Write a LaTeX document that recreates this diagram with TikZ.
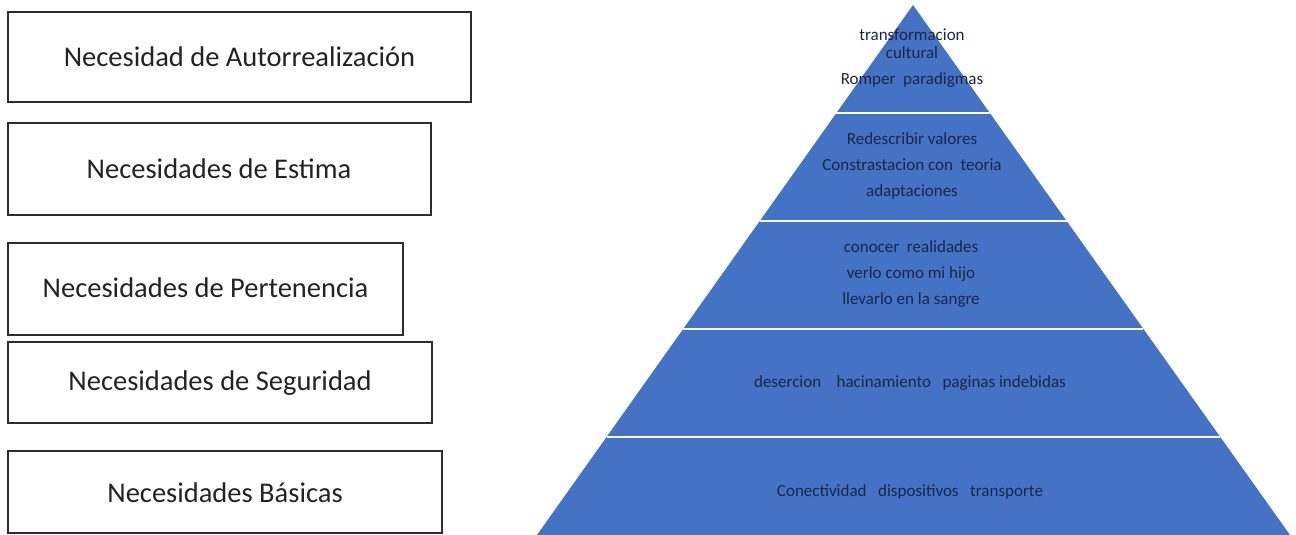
\documentclass[tikz,border=0pt]{standalone}
\usepackage{fontspec}
\setmainfont{Carlito}
\usetikzlibrary{calc}
\definecolor{pyrblue}{HTML}{4472C4}
\definecolor{pyrtext}{RGB}{28,38,68}
\definecolor{boxline}{RGB}{45,45,45}
\definecolor{boxtext}{RGB}{35,35,35}
\tikzset{
  needbox/.style={draw=boxline, line width=2pt, fill=white},
  needlabel/.style={text=boxtext, font=\fontsize{28.5}{34}\selectfont, inner sep=0pt},
  tierlabel/.style={text=pyrtext, font=\fontsize{17}{26}\selectfont, align=center, inner sep=0pt},
  separator/.style={draw=white, line width=2.5pt}
}
\begin{document}
\begin{tikzpicture}[x=1pt,y=-1pt]
\useasboundingbox (0,0) rectangle (1296,535);
% left boxes
\draw[needbox] (8,12) rectangle (471,102);
\node[needlabel] (b1) at (239.5,57) {Necesidad de Autorrealización};
\draw[needbox] (8,123) rectangle (431,215);
\node[needlabel] (b2) at (219,169) {Necesidades de Estima};
\draw[needbox] (8,243) rectangle (403,335);
\node[needlabel] (b3) at (205.5,288) {Necesidades de Pertenencia};
\draw[needbox] (8,342) rectangle (432,423);
\node[needlabel] (b4) at (220,383) {Necesidades de Seguridad};
\draw[needbox] (8,451) rectangle (442,533);
\node[needlabel] (b5) at (225,493) {Necesidades Básicas};
% pyramid
\coordinate (apex) at (913,5);
\coordinate (bl) at (537,535);
\coordinate (br) at (1290,535);
\fill[pyrblue] (apex) -- (bl) -- (br) -- cycle;
\foreach \t in {0.2038,0.4075,0.6113,0.8151}{
  \draw[separator] ($(apex)!\t!(bl)$) -- ($(apex)!\t!(br)$);
}
\node[tierlabel, font=\fontsize{17}{18}\selectfont] (t1a) at (912,44) {transformacion\\cultural};
\node[tierlabel] (t1b) at (912,80) {Romper\ \ paradigmas};
\node[tierlabel] (t2) at (912,166) {Redescribir valores\\Constrastacion con\ \ teoria\\adaptaciones};
\node[tierlabel] (t3) at (911,274) {conocer\ \ realidades\\verlo como mi hijo\\llevarlo en la sangre};
\node[tierlabel] (t4) at (910,383) {desercion\ \ \ \ hacinamiento\ \ \ paginas indebidas};
\node[tierlabel] (t5) at (910,492) {Conectividad\ \ \ dispositivos\ \ \ transporte};
\end{tikzpicture}
\end{document}
